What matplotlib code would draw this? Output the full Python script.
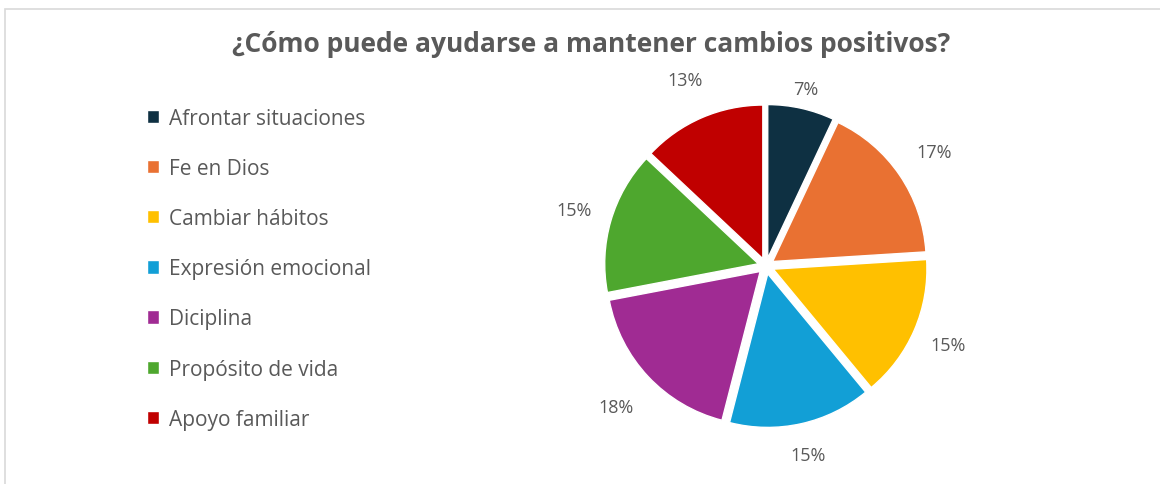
import numpy as np
import matplotlib.pyplot as plt
from matplotlib.patches import Rectangle

categories = ["Afrontar situaciones", "Fe en Dios", "Cambiar hábitos",
              "Expresión emocional", "Diciplina", "Propósito de vida",
              "Apoyo familiar"]
values = [7, 17, 15, 15, 18, 15, 13]
colors = ["#0E3042", "#E97132", "#FFC000", "#129FD6", "#A02B93",
          "#4EA72E", "#C00000"]
# how far out each percentage label sits (Excel "best fit" look)
label_dist = [1.13, 1.27, 1.24, 1.21, 1.29, 1.25, 1.27]

plt.rcParams['font.family'] = ['Open Sans', 'DejaVu Sans']
txt = "#595959"

fig = plt.figure(figsize=(11.6, 4.85), dpi=100)

# thin chart-area frame
fig.patches.append(Rectangle((5 / 1160, -0.1), 1.2, 1.1 - 10 / 485,
                             transform=fig.transFigure, fill=False,
                             edgecolor="#D9D9D9", linewidth=1.2))

ax = fig.add_axes([566 / 1160, 18 / 485, 400 / 1160, 400 / 485])
wedges, texts, autotexts = ax.pie(
    values, colors=colors, startangle=90, counterclock=False, radius=0.96,
    explode=[0.05] * len(values), autopct='%1.0f%%', pctdistance=1.24,
    wedgeprops=dict(edgecolor="white", linewidth=1),
    textprops=dict(color=txt, fontsize=13))
for w, t, d in zip(wedges, autotexts, label_dist):
    ang = np.deg2rad((w.theta1 + w.theta2) / 2)
    cx, cy = w.center
    t.set_position((cx + w.r * d * np.cos(ang), cy + w.r * d * np.sin(ang)))
ax.set_xlim(-1.25, 1.25)
ax.set_ylim(-1.25, 1.25)
ax.set_aspect('equal')

fig.text(0.51, 1 - 45 / 485, "¿Cómo puede ayudarse a mantener cambios positivos?",
         ha='center', va='center', fontsize=19, fontweight='bold', color=txt)

leg = fig.legend(wedges, categories, loc='upper left',
                 bbox_to_anchor=(128 / 1160, 1 - 90 / 485), frameon=False,
                 handlelength=0.6, handleheight=0.6, handletextpad=0.45,
                 labelspacing=1.4, fontsize=15)
for t in leg.get_texts():
    t.set_color(txt)

fig.savefig("out.png", dpi=100)
